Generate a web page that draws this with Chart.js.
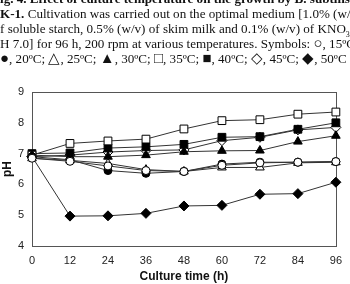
<!DOCTYPE html>
<html>
<head>
<meta charset="utf-8">
<script src="https://cdn.jsdelivr.net/npm/chart.js@4.4.1/dist/chart.umd.min.js"></script>
<style>
  html, body { margin: 0; padding: 0; background: #fff; }
  #wrap { position: relative; width: 350px; height: 284px; overflow: hidden; }
  #caption { position: absolute; left: 0; top: 0; width: 350px; font-family: "Liberation Serif", serif; font-size: 13.1px; line-height: 15px; color: #111; }
  #caption div { white-space: nowrap; }
  #caption sub { font-size: 8px; line-height: 0; }
  #caption .sym { font-size: 15px; line-height: 0; }
  #chart { position: absolute; left: 0; top: 0; }
</style>
</head>
<body>
<div id="wrap">
  <canvas id="chart" width="350" height="284"></canvas>
  <div id="caption">
    <div style="margin-top:-9px"><b>ig. 4. Effect of culture temperature on the growth by B. subtilis</b></div>
    <div><b>K-1.</b> Cultivation was carried out on the optimal medium [1.0% (w/v)</div>
    <div>f soluble starch, 0.5% (w/v) of skim milk and 0.1% (w/v) of KNO<sub>3</sub></div>
    <div>H 7.0] for 96 h, 200 rpm at various temperatures. Symbols: <span class="sym">○</span>, 15ºC</div>
    <div><span class="sym">●</span>, 20ºC; <span class="sym">△</span>, 25ºC; <span class="sym">▲</span>, 30ºC; <span class="sym">□</span>, 35ºC; <span class="sym">■</span>, 40ºC; <span class="sym">◇</span>, 45ºC; <span class="sym">◆</span>, 50ºC</div>
  </div>
</div>
<script>
// --< Data >--
const hours = [0, 12, 24, 36, 48, 60, 72, 84, 96];
const yTicks = [4, 5, 6, 7, 8, 9];

const ph15 = [6.85, 6.75, 6.60, 6.45, 6.42, 6.62, 6.70, 6.72, 6.74];
const ph20 = [6.90, 6.80, 6.45, 6.36, 6.42, 6.66, 6.72, 6.72, 6.74];
const ph25 = [6.85, 6.78, 6.68, 6.48, 6.42, 6.55, 6.55, 6.70, 6.72];
const ph30 = [6.95, 6.90, 6.90, 6.95, 7.06, 7.09, 7.10, 7.39, 7.58];
const ph35 = [6.95, 7.33, 7.41, 7.47, 7.80, 8.07, 8.10, 8.28, 8.35];
const ph40 = [7.00, 7.02, 7.18, 7.22, 7.30, 7.53, 7.55, 7.79, 8.00];
const ph45 = [6.90, 6.95, 7.05, 7.10, 7.12, 7.42, 7.53, 7.77, 7.85];
const ph50 = [6.90, 4.97, 4.98, 5.06, 5.30, 5.32, 5.68, 5.70, 6.07];
// --</ Data >--

const series = [
  { label: "15ºC", data: ph15, style: "circle", fill: "#fff", r: 4 },
  { label: "20ºC", data: ph20, style: "circle", fill: "#000", r: 4 },
  { label: "25ºC", data: ph25, style: "triangle", fill: "#fff", r: 5 },
  { label: "30ºC", data: ph30, style: "triangle", fill: "#000", r: 5 },
  { label: "35ºC", data: ph35, style: "rect", fill: "#fff", r: 5.5 },
  { label: "40ºC", data: ph40, style: "rect", fill: "#000", r: 5.5 },
  { label: "45ºC", data: ph45, style: "rectRot", fill: "#fff", r: 5 },
  { label: "50ºC", data: ph50, style: "rectRot", fill: "#000", r: 5 },
];

// frame round the plot area
const frame = {
  id: "frame",
  beforeDatasetsDraw(chart) {
    const a = chart.chartArea;
    const ctx = chart.ctx;
    ctx.save();
    ctx.strokeStyle = "#555";
    ctx.lineWidth = 1;
    ctx.strokeRect(Math.round(a.left) + 0.5, Math.round(a.top) + 0.5, Math.round(a.right - a.left), Math.round(a.bottom - a.top));
    ctx.restore();
  }
};

new Chart(document.getElementById("chart"), {
  type: "line",
  data: {
    datasets: series.map(s => ({
      label: s.label,
      data: hours.map((h, i) => ({ x: h, y: s.data[i] })),
      borderColor: "#333",
      borderWidth: 1,
      pointStyle: s.style,
      pointRadius: s.r,
      pointBackgroundColor: s.fill,
      pointBorderColor: "#000",
      pointBorderWidth: 1,
      clip: false,
      tension: 0,
    }))
  },
  options: {
    responsive: false,
    animation: false,
    layout: { padding: { top: 92, right: 10, left: 0, bottom: 0 } },
    plugins: { legend: { display: false }, tooltip: { enabled: false } },
    scales: {
      x: {
        type: "linear",
        min: 0, max: 96,
        afterBuildTicks: ax => { ax.ticks = hours.map(v => ({ value: v })); },
        afterFit: ax => { ax.height = 38; },
        grid: { display: false, drawTicks: false },
        border: { display: false },
        ticks: { color: "#222", font: { family: "Liberation Sans", size: 11 }, padding: 8, maxRotation: 0 },
        title: { display: true, text: "Culture time (h)", color: "#111", font: { family: "Liberation Sans", size: 12, weight: "bold" }, padding: { top: 1, bottom: 0 } }
      },
      y: {
        min: 4, max: 9,
        afterBuildTicks: ax => { ax.ticks = yTicks.map(v => ({ value: v })); },
        afterFit: ax => { ax.width = 32; },
        grid: { display: false, drawOnChartArea: false, drawTicks: true, tickLength: 4, color: "#555" },
        border: { display: false },
        ticks: { color: "#222", font: { family: "Liberation Sans", size: 11 }, padding: 4 },
        title: { display: true, text: "pH", color: "#111", font: { family: "Liberation Sans", size: 12, weight: "bold" }, padding: { top: 0, bottom: 0 } }
      }
    }
  },
  plugins: [frame]
});
</script>
</body>
</html>
